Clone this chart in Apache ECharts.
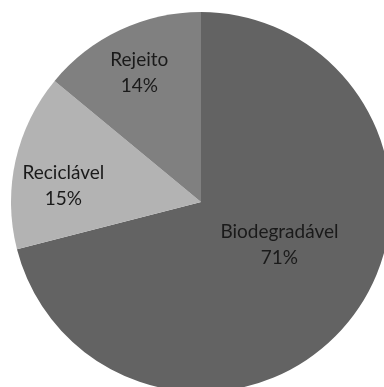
<!DOCTYPE html>
<html>
<head>
<meta charset="utf-8">
<script src="https://cdn.jsdelivr.net/npm/echarts@6/dist/echarts.min.js"></script>
<style>
html,body{margin:0;padding:0;background:#fff;}
#chart{width:384px;height:387px;}
</style>
</head>
<body>
<div id="chart"></div>
<script>
const categories = ['Biodegradável', 'Reciclável', 'Rejeito'];
const values = [71, 15, 14];

const sliceColors = ['#636363', '#b3b3b3', '#808080'];
const labelOffsets = { 'Biodegradável': [1, -17], 'Reciclável': [-42, 5], 'Rejeito': [-20, -40] };

const chart = echarts.init(document.getElementById('chart'), null, { renderer: 'canvas' });
chart.setOption({
  animation: false,
  backgroundColor: '#ffffff',
  series: [{
    type: 'pie',
    center: [201, 202],
    radius: [0, 190],
    startAngle: 90,
    clockwise: true,
    avoidLabelOverlap: false,
    silent: true,
    itemStyle: { borderWidth: 0 },
    label: {
      show: true,
      position: 'inside',
      formatter: '{b}\n{d}%',
      fontFamily: 'Lato',
      fontSize: 19,
      lineHeight: 26,
      color: '#1a1a1a'
    },
    labelLine: { show: false },
    data: categories.map((c, i) => ({
      name: c,
      value: values[i],
      itemStyle: { color: sliceColors[i] },
      label: { offset: labelOffsets[c] }
    }))
  }]
});
</script>
</body>
</html>
